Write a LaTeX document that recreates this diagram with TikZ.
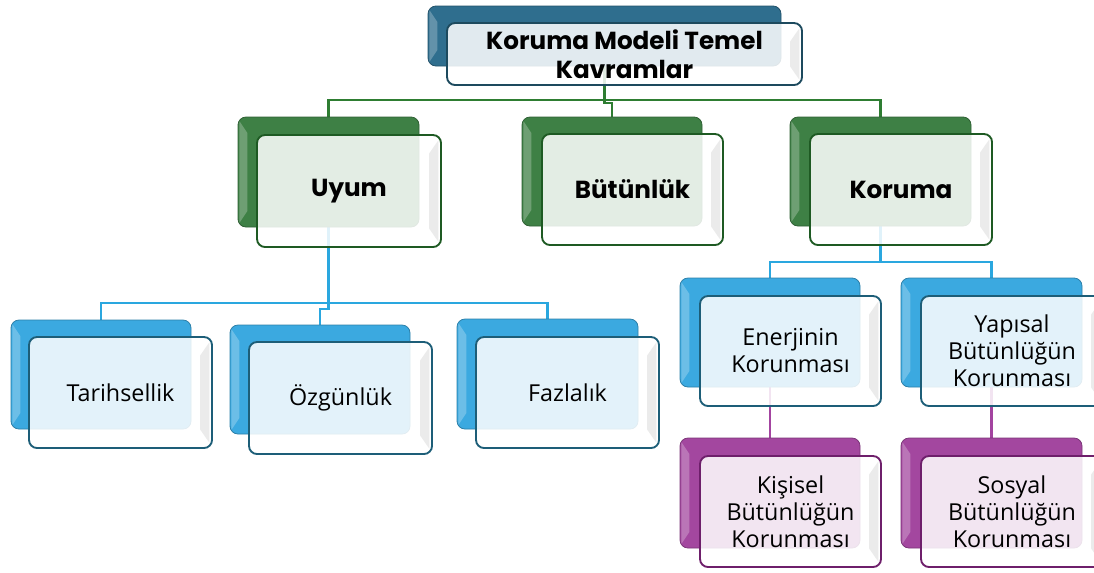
\documentclass[tikz,border=0pt]{standalone}
\usepackage{fontspec}
\setmainfont{Open Sans}
\newfontfamily\titlefont{Poppins}
\usetikzlibrary{fit,backgrounds}
\definecolor{gback}{HTML}{3E8045}
\definecolor{gdark}{HTML}{1E5A23}
\definecolor{gline}{HTML}{2E7D32}
\definecolor{tback}{HTML}{2F6E8E}
\definecolor{tdark}{HTML}{1D4A5E}
\definecolor{bback}{HTML}{3BA9E0}
\definecolor{bdark}{HTML}{1D5E78}
\definecolor{bline}{HTML}{2AA7DF}
\definecolor{pback}{HTML}{A3479F}
\definecolor{pdark}{HTML}{6E1F6B}
\definecolor{pline}{HTML}{A344A0}
\tikzset{
  backbox/.style={rounded corners=6pt, inner sep=0pt, fill=#1, draw=#1!75!black, line width=0.6pt,
    path picture={\fill[white, opacity=0.25, sharp corners]
      ([xshift=1pt,yshift=-3pt]path picture bounding box.north west) --
      ([xshift=7pt,yshift=-12pt]path picture bounding box.north west) --
      ([xshift=7pt,yshift=12pt]path picture bounding box.south west) --
      ([xshift=1pt,yshift=3pt]path picture bounding box.south west) -- cycle;}},
  frontbox/.style={rounded corners=6pt, inner sep=0pt, fill=white, fill opacity=0.86,
    draw opacity=1, draw=#1, line width=1.4pt,
    path picture={\fill[black, opacity=0.08, sharp corners]
      ([xshift=-2pt,yshift=-4pt]path picture bounding box.north east) --
      ([xshift=-9pt,yshift=-14pt]path picture bounding box.north east) --
      ([xshift=-9pt,yshift=14pt]path picture bounding box.south east) --
      ([xshift=-2pt,yshift=4pt]path picture bounding box.south east) -- cycle;}},
  boldtext/.style={align=center, font=\titlefont\bfseries\fontsize{18.5pt}{21.75pt}\selectfont},
  plaintext/.style={align=center, font=\fontsize{17.5pt}{20.25pt}\selectfont},
  link/.style={line width=1.8pt, draw=#1},
}
\begin{document}
\begin{tikzpicture}[x=0.75pt,y=-0.75pt]
\useasboundingbox (0,0) rectangle (1094,572);
% top
\node[backbox=tback, fit={(428,6) (781,66)}] (topb) {};
\node[frontbox=tdark, fit={(447,23) (802,85)}] (topf) {};
\node[boldtext] (topt) at (topf.center) {Koruma Modeli Temel\\Kavramlar};
% level 1
\node[backbox=gback, fit={(238,117) (419,227)}] (uyumb) {};
\node[frontbox=gdark, fit={(257,135) (441,247)}] (uyumf) {};
\node[boldtext] (uyumt) at (uyumf.center) {Uyum};
\node[backbox=gback, fit={(522,117) (702,226)}] (butb) {};
\node[frontbox=gdark, fit={(542,134) (723,245)}] (butf) {};
\node[boldtext] (butt) at (butf.center) {Bütünlük};
\node[backbox=gback, fit={(790,117) (971,226)}] (korb) {};
\node[frontbox=gdark, fit={(810,134) (992,245)}] (korf) {};
\node[boldtext] (kort) at (korf.center) {Koruma};
% level 2 under Uyum
\node[backbox=bback, fit={(11,320) (191,429)}] (tarb) {};
\node[frontbox=bdark, fit={(29,337) (212,448)}] (tarf) {};
\node[plaintext] (tart) at (tarf.center) {Tarihsellik};
\node[backbox=bback, fit={(230,325) (410,434)}] (ozgb) {};
\node[frontbox=bdark, fit={(249,342) (432,454)}] (ozgf) {};
\node[plaintext] (ozgt) at (ozgf.center) {Özgünlük};
\node[backbox=bback, fit={(457,319) (638,429)}] (fazb) {};
\node[frontbox=bdark, fit={(476,337) (659,448)}] (fazf) {};
\node[plaintext] (fazt) at (fazf.center) {Fazlalık};
% level 2 under Koruma
\node[backbox=bback, fit={(680,278) (860,387)}] (enb) {};
\node[frontbox=bdark, fit={(700,296) (881,406)}] (enf) {};
\node[plaintext] (ent) at (enf.center) {Enerjinin\\Korunması};
\node[backbox=bback, fit={(901,278) (1082,387)}] (yapb) {};
\node[frontbox=bdark, fit={(921,296) (1103,406)}] (yapf) {};
\node[plaintext] (yapt) at (yapf.center) {Yapısal\\Bütünlüğün\\Korunması};
% level 3
\node[backbox=pback, fit={(680,438) (860,548)}] (kisb) {};
\node[frontbox=pdark, fit={(700,456) (881,567)}] (kisf) {};
\node[plaintext] (kist) at (kisf.center) {Kişisel\\Bütünlüğün\\Korunması};
\node[backbox=pback, fit={(901,438) (1082,548)}] (sosb) {};
\node[frontbox=pdark, fit={(921,456) (1103,567)}] (sosf) {};
\node[plaintext] (sost) at (sosf.center) {Sosyal\\Bütünlüğün\\Korunması};
% connectors
\begin{scope}[on background layer]
  \coordinate (gbus) at (topb.center |- 0,100);
  \draw[link=gline] (topb.center) -- (gbus);
  \draw[link=gline] (uyumb.north) |- (gbus) -| (korb.north);
  \draw[link=gline] (gbus) -- ++(0,3) -| (butb.north);
  \coordinate (ubus) at (uyumb.center |- 0,303);
  \draw[link=bline] (uyumb.center) -- (ubus);
  \draw[link=bline] (tarb.north) |- (ubus) -| (fazb.north);
  \draw[link=bline] (ubus) -- ++(0,6) -| (ozgb.north);
  \coordinate (kbus) at (korb.center |- 0,262);
  \draw[link=bline] (korb.center) -- (kbus);
  \draw[link=bline] (enb.north) |- (kbus) -| (yapb.north);
  \draw[link=pline] (enb.center) -- (kisb.north);
  \draw[link=pline] (yapb.center) -- (sosb.north);
\end{scope}
\end{tikzpicture}
\end{document}
